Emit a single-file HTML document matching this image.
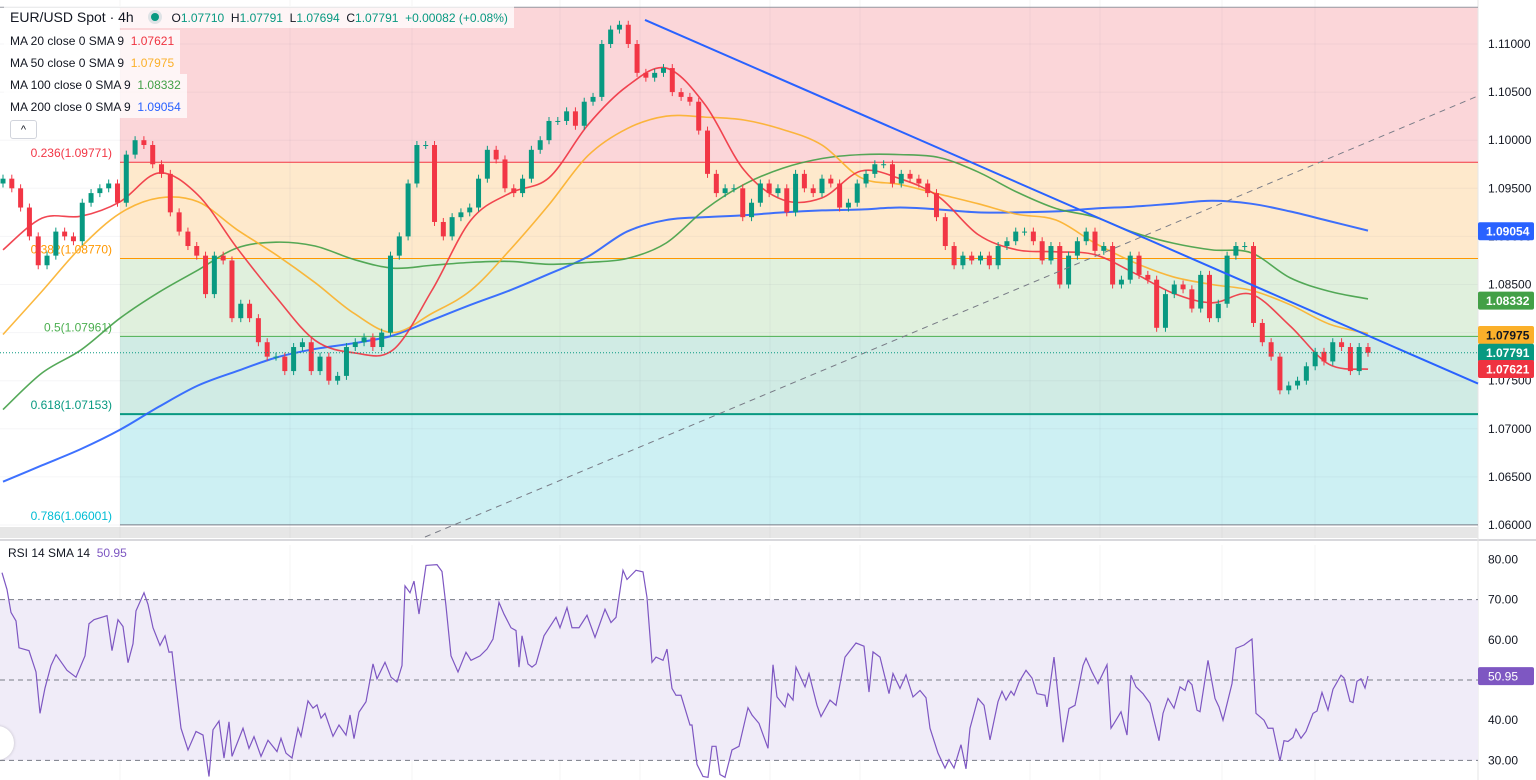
<!DOCTYPE html>
<html><head><meta charset="utf-8">
<style>
html,body{margin:0;padding:0;background:#fff;}
body{width:1536px;height:780px;overflow:hidden;font-family:"Liberation Sans",sans-serif;}
svg{display:block}
</style></head>
<body>
<svg id="chart" width="1536" height="780" xmlns="http://www.w3.org/2000/svg">
  <g id="zones"></g>
  <g id="grid"></g>
  <g id="fiblines"></g>
  <g id="rsiBg"></g>
  <g id="mas"></g>
  <g id="candles"></g>
  <g id="drawings"></g>
  <g id="rsi"></g>
  <g id="axis"></g>
  <g id="legend"></g>
</svg>
<script>
// ---------- DATA ----------
const closes = [1.0960,1.0950,1.0930,1.0900,1.0870,1.0880,1.0905,1.0900,1.0895,1.0935,1.0945,1.0950,1.0955,1.0935,1.0985,1.1000,1.0995,1.0975,1.0965,1.0925,1.0905,1.0890,1.0880,1.0840,1.0880,1.0875,1.0815,1.0830,1.0815,1.0790,1.0775,1.0775,1.0760,1.0785,1.0790,1.0760,1.0775,1.0750,1.0755,1.0785,1.0790,1.0795,1.0785,1.0800,1.0880,1.0900,1.0955,1.0995,1.0995,1.0915,1.0900,1.0920,1.0925,1.0930,1.0960,1.0990,1.0980,1.0950,1.0945,1.0960,1.0990,1.1000,1.1020,1.1020,1.1030,1.1015,1.1040,1.1045,1.1100,1.1115,1.1120,1.1100,1.1070,1.1065,1.1070,1.1075,1.1050,1.1045,1.1040,1.1010,1.0965,1.0945,1.0950,1.0950,1.0920,1.0935,1.0955,1.0945,1.0950,1.0925,1.0965,1.0950,1.0945,1.0960,1.0955,1.0930,1.0935,1.0955,1.0965,1.0975,1.0975,1.0955,1.0965,1.0960,1.0955,1.0945,1.0920,1.0890,1.0870,1.0880,1.0875,1.0880,1.0870,1.0890,1.0895,1.0905,1.0905,1.0895,1.0875,1.0890,1.0850,1.0880,1.0895,1.0905,1.0885,1.0890,1.0850,1.0855,1.0880,1.0860,1.0855,1.0805,1.0840,1.0850,1.0845,1.0825,1.0860,1.0815,1.0830,1.0880,1.0890,1.0890,1.0810,1.0790,1.0775,1.0740,1.0745,1.0750,1.0765,1.0780,1.0770,1.0790,1.0785,1.0760,1.0785,1.0779];
const firstOpen = 1.0955;
const ma20 = [1.0886,1.0919,1.0921,1.0936,1.0966,1.0943,1.0888,1.0837,1.0792,1.0779,1.0782,1.0844,1.0917,1.0945,1.0961,1.1016,1.1056,1.1075,1.1037,1.0969,1.0938,1.0940,1.0968,1.0960,1.0941,1.0902,1.0886,1.0884,1.0881,1.0862,1.0841,1.0831,1.0840,1.0807,1.0767,1.0762];
const ma50 = [1.0798,1.0843,1.0889,1.0924,1.0940,1.0936,1.0907,1.0881,1.0852,1.0820,1.0800,1.0820,1.0844,1.0886,1.0933,1.0984,1.1012,1.1025,1.1024,1.1021,1.1011,1.0995,1.0961,1.0954,1.0944,1.0934,1.0923,1.0917,1.0893,1.0873,1.0858,1.0850,1.0844,1.0829,1.0809,1.0799];
const ma100 = [1.0720,1.0758,1.0782,1.0815,1.0842,1.0865,1.0888,1.0894,1.0890,1.0876,1.0867,1.0870,1.0873,1.0874,1.0871,1.0873,1.0877,1.0893,1.0928,1.0954,1.0971,1.0981,1.0985,1.0985,1.0982,1.0967,1.0946,1.0929,1.0920,1.0904,1.0893,1.0886,1.0883,1.0857,1.0843,1.0835];
const ma200 = [1.0645,1.0662,1.0679,1.0699,1.0723,1.0745,1.0760,1.0774,1.0783,1.0789,1.0797,1.0813,1.0829,1.0844,1.0861,1.0879,1.0905,1.0917,1.0920,1.0922,1.0925,1.0927,1.0928,1.0930,1.0928,1.0925,1.0925,1.0926,1.0929,1.0931,1.0934,1.0937,1.0934,1.0926,1.0916,1.0906];
const rsiTime = [-1,4,8,13,16,26,33,37,42,48,53,64,73,82,86,91,104,109,115,120,125,130,133,141,145,150,157,162,166,169,178,185,193,200,206,210,216,221,226,229,240,246,251,258,265,274,278,283,289,295,298,305,310,314,318,322,330,336,343,347,351,356,363,370,374,382,388,394,399,402,407,411,416,423,434,439,443,448,455,463,468,477,484,490,496,501,508,513,516,519,525,529,533,541,553,557,564,569,576,584,592,602,608,613,620,624,633,640,644,649,653,660,664,669,673,678,687,689,694,700,705,709,713,717,722,729,736,745,749,756,765,770,774,782,785,790,793,802,806,814,818,827,833,842,853,861,866,870,877,886,890,897,903,910,917,923,927,935,942,946,951,958,963,967,975,981,987,995,999,1003,1008,1011,1016,1023,1029,1034,1042,1044,1051,1060,1066,1072,1080,1083,1089,1095,1104,1108,1111,1118,1124,1128,1133,1140,1147,1151,1156,1160,1165,1171,1177,1182,1185,1189,1194,1197,1205,1212,1216,1220,1229,1233,1241,1249,1253,1261,1265,1270,1277,1281,1285,1290,1293,1298,1303,1310,1314,1319,1325,1330,1338,1341,1347,1350,1354,1358,1362,1365];
const rsiVals = [76.7,72.5,66.8,64.7,58,57.3,52,41.7,48,53.6,56.3,52.4,50.7,56,64,65,66,57.3,65,63.3,54.3,59,67.2,71.7,68.8,63,58.6,61,56.9,57,38,32.6,37.2,36.3,26,37.6,39.8,30.6,39.6,31,38,33,35.9,31,35,32.2,35.5,31.8,30.6,38,36,44.8,43,43.8,40.5,41.7,36,38.8,36.3,41.3,35.4,42,44.6,54,50.3,54.4,50.7,49.5,53.6,73.4,71.7,74.6,66.4,78.5,78.7,77,68.4,56,52,56.9,54.9,56,57.7,60.2,69.3,66.4,63,62.3,53.2,61,54,53.2,54,61,65.6,63,68,63,63,66.1,60.6,67.6,64.3,65.6,77.3,75,77.3,76.9,70.5,54.4,55.7,54.9,57.7,47.9,46.2,46.2,38.8,38.8,29,26,25.8,33.5,33.5,26.5,25.8,32.6,33.5,43.1,41.3,39.2,33,53.8,45.8,43.3,46.6,45,53.2,48.3,51.6,43.7,40.9,45,43.7,55.7,59.2,58.4,47,57,55.7,46.6,51.6,47.9,51.3,45.8,47.4,45.6,38,31.8,28.1,30.2,28.1,33.9,27.9,38,45.4,43.7,35.1,44.6,47.2,45,47.2,46.2,49.5,52.4,50.5,46.6,46.2,43.3,55.7,34.5,42.9,43.7,53.6,55.4,52,49.1,53.8,38,39.2,42.1,36.3,51.2,48.3,46.6,44.2,40,34.9,41.7,45.4,43,48.3,47.4,49.9,48.8,42.5,42.1,54.9,45.4,43.3,40,49.1,57.9,58.7,60.2,41.7,40,38,38,29.9,34.9,34.7,35.7,37.8,35.5,37.2,41.7,42.3,46.9,42.5,47.7,51.2,50.5,44.7,44.4,49.7,50.3,48,51];
const priceTicks = [1.11,1.105,1.10,1.095,1.09,1.085,1.08,1.075,1.07,1.065,1.06];
const rsiTicks = [80,70,60,50,40,30];
const fibLevels = [1.11382,1.09771,1.08770,1.07961,1.07153,1.06001];
const fibNames = ["","0.236","0.382","0.5","0.618","0.786"];

// ---------- SCALES ----------
const NS = "http://www.w3.org/2000/svg";
const X0 = 3, X1 = 1368, PLOT_R = 1478;
const yP = p => 44 + (1.11 - p) / 0.005 * 48.1;
const yR = v => 680 - (v - 50) * 4.02;
const xBar = i => X0 + i * (X1 - X0) / (closes.length - 1);
const xT = t => X0 + t;
const xMa = (k, n) => X0 + k * (X1 - X0) / (n - 1);
function mk(tag, attrs, parent){const e=document.createElementNS(NS,tag);for(const k in attrs)e.setAttribute(k,attrs[k]);parent.appendChild(e);return e;}
function fmt(p){return p.toFixed(5);}
function smooth(pts){let d="M"+pts[0][0]+","+pts[0][1];for(let i=0;i<pts.length-1;i++){const p0=pts[i-1]||pts[i],p1=pts[i],p2=pts[i+1],p3=pts[i+2]||p2;const c1x=p1[0]+(p2[0]-p0[0])/6,c1y=p1[1]+(p2[1]-p0[1])/6,c2x=p2[0]-(p3[0]-p1[0])/6,c2y=p2[1]-(p3[1]-p1[1])/6;d+=`C${c1x},${c1y} ${c2x},${c2y} ${p2[0]},${p2[1]}`;}return d;}

// ---------- ZONES ----------
const zones=document.getElementById('zones');
const zoneCols=["#fbd6d9","#fee9cc","#e0f0dd","#d0ebe4","#cdf0f3"];
for(let i=0;i<5;i++){
  const r=mk('rect',{x:120,y:yP(fibLevels[i]),width:PLOT_R-120,height:yP(fibLevels[i+1])-yP(fibLevels[i]),fill:zoneCols[i]},zones);
  
  
}
const gb=mk('rect',{x:0,y:527,width:PLOT_R,height:11,fill:"#e6e6e6"},zones);



// ---------- GRID ----------
const grid=document.getElementById('grid');
[120,290,412,560,640,770,860,1030,1100,1222,1315].forEach(x=>{mk('line',{x1:x,y1:0,x2:x,y2:538,stroke:"rgba(120,120,140,0.08)"},grid);mk('line',{x1:x,y1:545,x2:x,y2:780,stroke:"rgba(120,120,140,0.08)"},grid);});
priceTicks.forEach(p=>mk('line',{x1:0,y1:yP(p),x2:PLOT_R,y2:yP(p),stroke:"rgba(120,120,140,0.07)"},grid));
mk('line',{x1:0,y1:540,x2:1536,y2:540,stroke:"#d8d8dc",'stroke-width':2},grid);
mk('line',{x1:PLOT_R,y1:0,x2:PLOT_R,y2:780,stroke:"#e6e6e6"},grid);

// ---------- FIB LINES & LABELS ----------
const fl=document.getElementById('fiblines');
const fibCols=["#9598a1","#f23645","#ff9800","#4caf50","#089981","#787b86"];
const fibTxtCols=["","#f23645","#ff9800","#4caf50","#089981","#00bcd4"];
fibLevels.forEach((p,i)=>{
  const l=mk('line',{x1:i==0?0:120,y1:yP(p),x2:PLOT_R,y2:yP(p),stroke:fibCols[i],'stroke-width':i==4?2:1},fl);
  
  
  if(fibNames[i]){
    const t=mk('text',{x:112,y:yP(p)-5,'text-anchor':'end','font-size':12,fill:fibTxtCols[i]},fl);
    t.textContent=fibNames[i]+"("+fmt(p)+")";
    
    
  }
});

// ---------- RSI BG ----------
const rb=document.getElementById('rsiBg');
mk('rect',{x:0,y:yR(70),width:PLOT_R,height:yR(30)-yR(70),fill:"#f0ecf8"},rb);
[70,50,30].forEach(v=>mk('line',{x1:0,y1:yR(v),x2:PLOT_R,y2:yR(v),stroke:"#787b86",'stroke-dasharray':"5,4"},rb));

// ---------- MAs ----------
const mas=document.getElementById('mas');
[[ma200,"#2962ff","ma200-line"],[ma100,"#43a047","ma100-line"],[ma50,"#fbb02a","ma50-line"],[ma20,"#ef3340","ma20-line"]].forEach(([arr,col,nm])=>{
  const pts=arr.map((v,k)=>[xMa(k,arr.length),yP(v)]);
  const pa=mk('path',{d:smooth(pts),fill:"none",stroke:col,'stroke-width':nm=="ma200-line"?2:1.6,opacity:0.9},mas);
  
  
});

// ---------- CANDLES ----------
const cg=document.getElementById('candles');
closes.forEach((c,i)=>{
  const o=i==0?firstOpen:closes[i-1];
  const up=c>=o;const col=up?"#089981":"#f23645";
  const x=xBar(i);
  const hi=Math.max(o,c),lo=Math.min(o,c);
  const g=mk('g',{},cg);
  
  
  mk('line',{x1:x,y1:yP(hi)-4,x2:x,y2:yP(lo)+4,stroke:col,'stroke-width':1},g);
  mk('rect',{x:x-2.5,y:yP(hi),width:5,height:Math.max(1,yP(lo)-yP(hi)),fill:col},g);
});

// ---------- DRAWINGS ----------
const dr=document.getElementById('drawings');
const tl=mk('line',{x1:645,y1:yP(1.1125),x2:PLOT_R,y2:yP(1.0747),stroke:"#2962ff",'stroke-width':2},dr);


const dl=mk('line',{x1:425,y1:537,x2:PLOT_R,y2:yP(1.1046),stroke:"#787b86",'stroke-width':1,'stroke-dasharray':"6,5"},dr);


const cl=mk('line',{x1:0,y1:yP(1.07791),x2:PLOT_R,y2:yP(1.07791),stroke:"#089981",'stroke-width':1,'stroke-dasharray':"1,2"},dr);



// ---------- RSI ----------
const rg=document.getElementById('rsi');
const rp=mk('polyline',{points:rsiVals.map((v,i)=>xT(rsiTime[i])+","+yR(v)).join(" "),fill:"none",stroke:"#7e57c2",'stroke-width':1.2},rg);



// ---------- AXES ----------
const ax=document.getElementById('axis');
priceTicks.forEach(p=>{const t=mk('text',{x:1488,y:yP(p)+4,'font-size':12,fill:"#131722"},ax);t.textContent=fmt(p);
  
  });
rsiTicks.forEach(v=>{const t=mk('text',{x:1488,y:yR(v)+4,'font-size':12,fill:"#131722"},ax);t.textContent=v.toFixed(2);
  
  });
const tags=[[1.09054,"#2962ff","#fff","ma200-tag"],[1.08332,"#43a047","#fff","ma100-tag"],[1.07975,"#fbb02a","#131722","ma50-tag"],[1.07791,"#089981","#fff","last-price-tag"],[1.07621,"#ef3340","#fff","ma20-tag"]];
tags.forEach(([p,bg,fg,nm])=>{
  const g=mk('g',{},ax);
  
  
  mk('rect',{x:1478,y:yP(p)-9,width:56,height:18,fill:bg,rx:2},g);
  const t=mk('text',{x:1486,y:yP(p)+4.5,'font-size':12,'font-weight':'bold',fill:fg},g);t.textContent=fmt(p);
});
const rt=mk('g',{},ax);


mk('rect',{x:1478,y:yR(50.95)-9,width:56,height:18,fill:"#7e57c2",rx:2},rt);
const rtt=mk('text',{x:1488,y:yR(50.95)+4.5,'font-size':12,fill:"#fff"},rt);rtt.textContent="50.95";
</script>
<svg width="0" height="0"></svg>
<div style="position:absolute;left:0;top:0;width:1536px;height:780px;pointer-events:none;font-family:'Liberation Sans',sans-serif;color:#131722;">
  <div style="position:absolute;left:4px;top:6px;height:22px;padding:0 6px;background:rgba(255,255,255,0.75);font-size:14px;line-height:22px;white-space:nowrap;">
    <span>EUR/USD Spot · 4h</span>
    <span style="display:inline-block;width:14px;height:14px;border-radius:7px;background:#dfe3e6;vertical-align:-2px;margin-left:10px;position:relative;"><span style="position:absolute;left:3px;top:3px;width:8px;height:8px;border-radius:4px;background:#089981;"></span></span>
    <span style="font-size:12px;margin-left:6px;">O<span style="color:#089981">1.07710</span>&nbsp; H<span style="color:#089981">1.07791</span>&nbsp; L<span style="color:#089981">1.07694</span>&nbsp; C<span style="color:#089981">1.07791</span>&nbsp; <span style="color:#089981">+0.00082 (+0.08%)</span></span>
  </div>
  <div style="position:absolute;left:4px;top:30px;font-size:12px;line-height:22px;">
    <div style="background:rgba(255,255,255,0.75);padding:0 6px;width:fit-content;">MA 20 close 0 SMA 9 &nbsp;<span style="color:#ef3340">1.07621</span></div>
    <div style="background:rgba(255,255,255,0.75);padding:0 6px;width:fit-content;">MA 50 close 0 SMA 9 &nbsp;<span style="color:#fbb02a">1.07975</span></div>
    <div style="background:rgba(255,255,255,0.75);padding:0 6px;width:fit-content;">MA 100 close 0 SMA 9 &nbsp;<span style="color:#43a047">1.08332</span></div>
    <div style="background:rgba(255,255,255,0.75);padding:0 6px;width:fit-content;">MA 200 close 0 SMA 9 &nbsp;<span style="color:#2962ff">1.09054</span></div>
  </div>
  <div style="position:absolute;left:10px;top:120px;width:25px;height:17px;border:1px solid #d1d4dc;border-radius:3px;background:#fff;font-size:11px;text-align:center;line-height:18px;">^</div>
  <div style="position:absolute;left:8px;top:546px;font-size:12px;">RSI 14 SMA 14 &nbsp;<span style="color:#7e57c2">50.95</span></div>
  <div style="position:absolute;left:-20px;top:726px;width:34px;height:34px;border-radius:17px;background:#fff;box-shadow:0 0 3px rgba(0,0,0,0.2);"></div>
</div>
</body></html>
